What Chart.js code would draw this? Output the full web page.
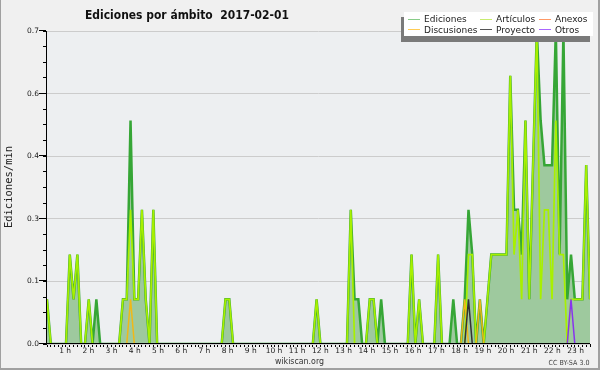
<!DOCTYPE html>
<html>
<head>
<meta charset="utf-8">
<script src="https://cdn.jsdelivr.net/npm/chart.js@4.4.0/dist/chart.umd.min.js"></script>
<style>
  html, body { margin: 0; padding: 0; background: #f0f0f0; }
  #wrap { width: 600px; height: 370px; position: relative; }
</style>
</head>
<body>
<div id="wrap"><canvas id="chart"></canvas></div>
<script>
// edits per minute, one value per 10 minutes, 6 per row = 1 hour
var ediciones = [
  0.1, 0,   0,   0,   0,   0,     // 0 h
  0.2, 0.1, 0.2, 0,   0,   0.1,   // 1 h
  0,   0.1, 0,   0,   0,   0,     // 2 h
  0,   0,   0.1, 0.1, 0.5, 0.1,   // 3 h
  0.1, 0.3, 0.1, 0,   0.3, 0,     // 4 h
  0,   0,   0,   0,   0,   0,     // 5 h
  0,   0,   0,   0,   0,   0,     // 6 h
  0,   0,   0,   0,   0,   0.1,   // 7 h
  0.1, 0,   0,   0,   0,   0,     // 8 h
  0,   0,   0,   0,   0,   0,     // 9 h
  0,   0,   0,   0,   0,   0,     // 10 h
  0,   0,   0,   0,   0,   0.1,   // 11 h
  0,   0,   0,   0,   0,   0,     // 12 h
  0,   0,   0.3, 0.1, 0.1, 0,     // 13 h
  0,   0.1, 0.1, 0,   0.1, 0,     // 14 h
  0,   0,   0,   0,   0,   0,     // 15 h
  0.2, 0,   0.1, 0,   0,   0,     // 16 h
  0,   0.2, 0,   0,   0,   0.1,   // 17 h
  0,   0,   0.1, 0.3, 0.2, 0,     // 18 h
  0.1, 0,   0.1, 0.2, 0.2, 0.2,   // 19 h
  0.2, 0.2, 0.6, 0.3, 0.3, 0.2,   // 20 h
  0.5, 0.1, 0.4, 0.7, 0.5, 0.4,   // 21 h
  0.4, 0.4, 0.7, 0.2, 0.7, 0.1,   // 22 h
  0.2, 0.1, 0.1, 0.1, 0.4, 0.1    // 23 h
];
var articulos = [
  0.1, 0,   0,   0,   0,   0,
  0.2, 0.1, 0.2, 0,   0,   0.1,
  0,   0,   0,   0,   0,   0,
  0,   0,   0.1, 0.1, 0.3, 0.1,
  0.1, 0.3, 0.1, 0,   0.3, 0,
  0,   0,   0,   0,   0,   0,
  0,   0,   0,   0,   0,   0,
  0,   0,   0,   0,   0,   0.1,
  0.1, 0,   0,   0,   0,   0,
  0,   0,   0,   0,   0,   0,
  0,   0,   0,   0,   0,   0,
  0,   0,   0,   0,   0,   0.1,
  0,   0,   0,   0,   0,   0,
  0,   0,   0.3, 0,   0,   0,
  0,   0.1, 0.1, 0,   0,   0,
  0,   0,   0,   0,   0,   0,
  0.2, 0,   0.1, 0,   0,   0,
  0,   0.2, 0,   0,   0,   0,
  0,   0,   0,   0.2, 0.2, 0,
  0,   0,   0.1, 0.2, 0.2, 0.2,
  0.2, 0.2, 0.6, 0.2, 0.3, 0.1,
  0.5, 0.1, 0.4, 0.7, 0.1, 0.3,
  0.3, 0.1, 0.5, 0.2, 0.2, 0,
  0.1, 0.1, 0.1, 0.1, 0.4, 0.1
];
// sparse series: [bin index, value]
var anexos = [];
var discusiones = [[22, 0.1], [110, 0.1], [114, 0.1]];
var proyecto = [[111, 0.1]];
var otros = [[138, 0.1]];

var hourLabels = ['1 h','2 h','3 h','4 h','5 h','6 h','7 h','8 h','9 h','10 h','11 h','12 h',
  '13 h','14 h','15 h','16 h','17 h','18 h','19 h','20 h','21 h','22 h','23 h'];
var yMax = 0.7;
var yStep = 0.035;   // minor tick; every 4th is a labelled gridline

var titleText = 'Ediciones por ámbito  2017-02-01';
var yTitle = 'Ediciones/min';

var seriesNames = ['Ediciones', 'Artículos', 'Anexos', 'Discusiones', 'Proyecto', 'Otros'];
var lineColors = ['#36a636', '#a8f000', '#ff6633', '#f0b818', '#333333', '#8833ee'];
var legendColors = ['#88cc88', '#c8ec70', '#ff9966', '#ffcc55', '#555555', '#aa66ff'];

var nBins = ediciones.length;

function full(arr) {
  return arr.map(function(v, i) { return {x: i, y: v}; });
}
function sparse(pairs) {
  var out = [];
  for (var i = 0; i < nBins; i++) out.push({x: i, y: 0});
  pairs.forEach(function(p) { out[p[0]].y = p[1]; });
  return out;
}

function fitText(ctx, text, x, y, width) {
  var w = ctx.measureText(text).width;
  ctx.save();
  ctx.translate(x, y);
  ctx.scale(width / w, 1);
  ctx.fillText(text, 0, 0);
  ctx.restore();
}

var decor = {
  id: 'decor',
  beforeDraw: function(chart) {
    var ctx = chart.ctx, a = chart.chartArea;
    ctx.save();
    ctx.fillStyle = '#f0f0f0';
    ctx.fillRect(0, 0, chart.width, chart.height);
    ctx.fillStyle = '#edeff1';
    ctx.fillRect(a.left, a.top, a.right - a.left, a.bottom - a.top);
    // outer frame
    ctx.fillStyle = '#a0a0a0';
    ctx.fillRect(0, 0, 1, chart.height);
    ctx.fillRect(598, 0, 2, chart.height);
    ctx.fillRect(0, 368, chart.width, 2);
    ctx.restore();
  },
  afterDatasetsDraw: function(chart) {
    var ctx = chart.ctx, a = chart.chartArea, ys = chart.scales.y;
    ctx.save();
    ctx.fillStyle = '#000';
    ctx.fillRect(a.left - 1, a.top, 1, a.bottom - a.top);
    ctx.fillRect(a.left - 1, a.bottom - 1, a.right - a.left + 1, 1);
    ys.ticks.forEach(function(t, i) {
      if (i % 4) return;
      var py = Math.round(ys.getPixelForValue(t.value));
      ctx.fillRect(a.left - 8, py - 1, 7, 1);
    });
    ctx.restore();
  },
  afterDraw: function(chart) {
    var ctx = chart.ctx, xs = chart.scales.x;
    ctx.save();
    // hour labels (the source spreads them slightly wider than the ticks)
    ctx.font = '7.5px "DejaVu Sans"';
    ctx.fillStyle = '#222';
    ctx.textAlign = 'center';
    ctx.textBaseline = 'alphabetic';
    hourLabels.forEach(function(lab, i) {
      var h = i + 1;
      var px = xs.getPixelForValue(h * 6) + (h - 12) * 0.42;
      ctx.fillText(lab, px, 353);
    });
    ctx.textAlign = 'left';
    // title
    ctx.fillStyle = '#111';
    ctx.font = 'bold 13px "DejaVu Sans"';
    fitText(ctx, titleText, 85, 18.5, 204);
    // y axis title
    ctx.save();
    ctx.translate(12, 187);
    ctx.rotate(-Math.PI / 2);
    ctx.font = '10.5px "DejaVu Sans Mono"';
    ctx.textAlign = 'center';
    ctx.fillStyle = '#222';
    ctx.fillText(yTitle, 0, 0);
    ctx.restore();
    // footer
    ctx.font = '8px "DejaVu Sans"';
    ctx.fillStyle = '#333';
    fitText(ctx, 'wikiscan.org', 275, 364, 49);
    ctx.font = '7px "DejaVu Sans"';
    ctx.fillStyle = '#444';
    fitText(ctx, 'CC BY-SA 3.0', 548.5, 365, 41);
    // legend box with shadow
    ctx.fillStyle = '#7a7a7a';
    ctx.fillRect(401, 17, 189, 25);
    ctx.fillStyle = '#ffffff';
    ctx.fillRect(404, 12, 189, 24);
    var cols = [408, 480, 539];
    var rows = [19.5, 30];
    ctx.font = '9px "DejaVu Sans"';
    ctx.textBaseline = 'middle';
    for (var i = 0; i < seriesNames.length; i++) {
      var cx = cols[i % 3], cy = rows[Math.floor(i / 3)];
      ctx.fillStyle = legendColors[i];
      ctx.fillRect(cx, Math.round(cy) - 1, 12, 1);
      ctx.fillStyle = '#222';
      ctx.fillText(seriesNames[i], cx + 16, cy + 0.5);
    }
    ctx.restore();
  }
};

var dataSeries = [full(ediciones), full(articulos), sparse(anexos), sparse(discusiones), sparse(proyecto), sparse(otros)];
var widths = [2.5, 1.7, 1.5, 1.5, 1.5, 1.5];

var datasets = dataSeries.map(function(d, i) {
  return {
    label: seriesNames[i],
    data: d,
    borderColor: lineColors[i],
    borderWidth: widths[i],
    backgroundColor: i === 0 ? '#9ec99e' : 'transparent',
    fill: i === 0 ? 'origin' : false,
    pointRadius: 0,
    tension: 0,
    order: 6 - i
  };
});

new Chart(document.getElementById('chart'), {
  type: 'line',
  data: { datasets: datasets },
  plugins: [decor],
  options: {
    responsive: true,
    maintainAspectRatio: false,
    animation: false,
    layout: { padding: { left: 0, top: 31, right: 10, bottom: 0 } },
    plugins: { legend: { display: false }, tooltip: { enabled: false } },
    scales: {
      x: {
        type: 'linear',
        min: 0,
        max: nBins - 1,
        afterFit: function(s) { s.height = 26; },
        border: { display: false },
        grid: { drawOnChartArea: false, drawTicks: true, tickLength: 3, tickColor: '#000' },
        ticks: {
          stepSize: 1,
          autoSkip: false,
          maxRotation: 0,
          minRotation: 0,
          padding: 0,
          callback: function() { return ''; }
        }
      },
      y: {
        min: 0,
        max: yMax,
        afterFit: function(s) { s.width = 47; },
        border: { display: false },
        grid: {
          color: function(c) { return c.index % 4 === 0 ? '#cccccc' : 'transparent'; },
          tickColor: '#000',
          tickLength: 4
        },
        ticks: {
          stepSize: yStep,
          padding: 4,
          color: '#222',
          font: { family: 'DejaVu Sans', size: 7.5 },
          callback: function(v, i) { return i % 4 === 0 ? v.toFixed(1) : ''; }
        }
      }
    }
  }
});
</script>
</body>
</html>
